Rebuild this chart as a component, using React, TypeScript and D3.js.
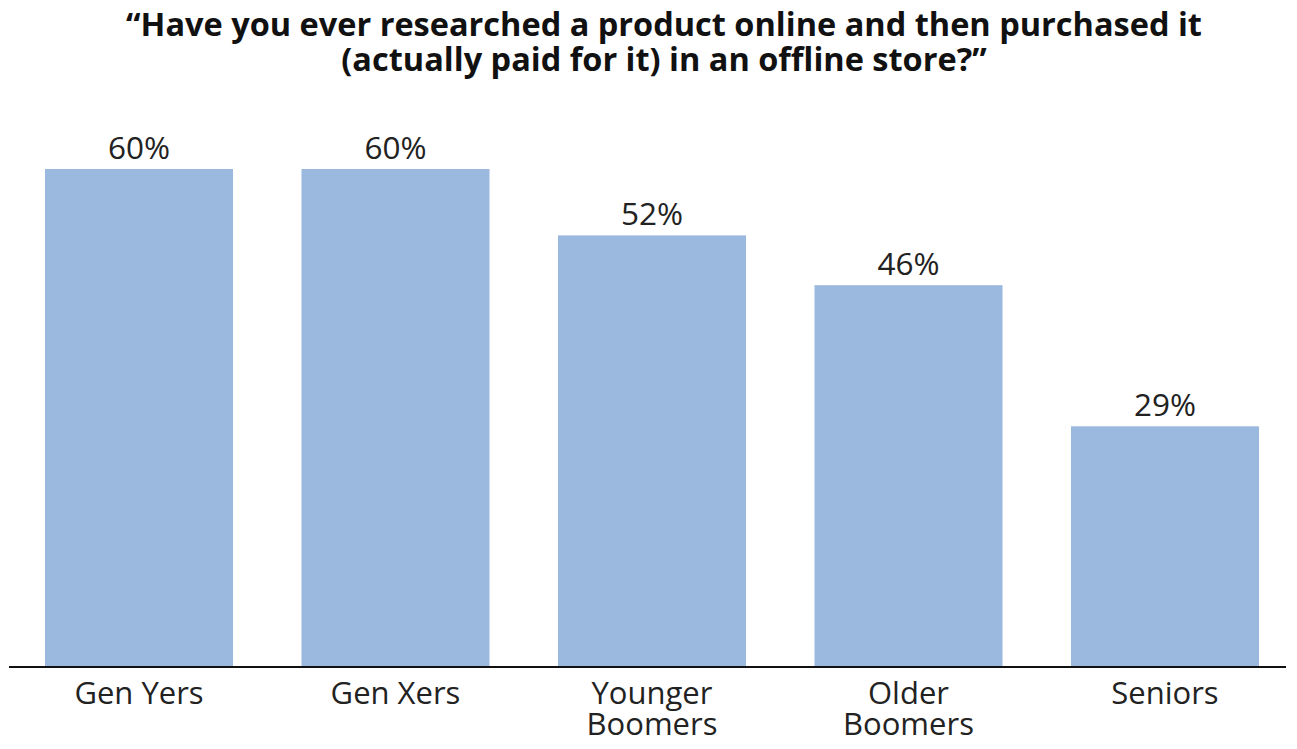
import React from "react";
import * as d3 from "d3";

const categories: string[][] = [["Gen Yers"], ["Gen Xers"], ["Younger", "Boomers"], ["Older", "Boomers"], ["Seniors"]];
const values: number[] = [60, 60, 52, 46, 29];
const titleLines: string[] = [
  "\u201CHave you ever researched a product online and then purchased it",
  "(actually paid for it) in an offline store?\u201D",
];

export default function App() {
  const W = 1297, H = 749;
  const baseY = 667;
  const keys = categories.map((c) => c.join(" "));
  const x = d3.scaleBand<string>().domain(keys).range([45, 1259]).paddingInner(0.267).paddingOuter(0);
  const y = d3.scaleLinear().domain([0, 60]).range([baseY, 169]);
  const font = "'Open Sans', 'Liberation Sans', sans-serif";
  return (
    <svg width={W} height={H} style={{ position: "absolute", left: 0, top: 0, background: "#fff" }}>
      {titleLines.map((t, i) => (
        <text key={i} x={664} y={36 + i * 35} textAnchor="middle" fontFamily={font} fontWeight="bold" fontSize={32.5} fill="#111">
          {t}
        </text>
      ))}
      {values.map((v, i) => (
        <g key={i}>
          <rect x={x(keys[i])} y={y(v)} width={x.bandwidth()} height={baseY - y(v)} fill="#9BB8DF" />
          <text x={(x(keys[i]) as number) + x.bandwidth() / 2} y={y(v) - 10} textAnchor="middle" fontFamily={font} fontSize={31.5} fill="#222">
            {v}%
          </text>
          {categories[i].map((l, j) => (
            <text key={j} x={(x(keys[i]) as number) + x.bandwidth() / 2} y={704 + j * 31} textAnchor="middle" fontFamily={font} fontSize={31} fill="#222">
              {l}
            </text>
          ))}
        </g>
      ))}
      <line x1={9} x2={1286} y1={baseY} y2={baseY} stroke="#111" strokeWidth={2} />
    </svg>
  );
}
